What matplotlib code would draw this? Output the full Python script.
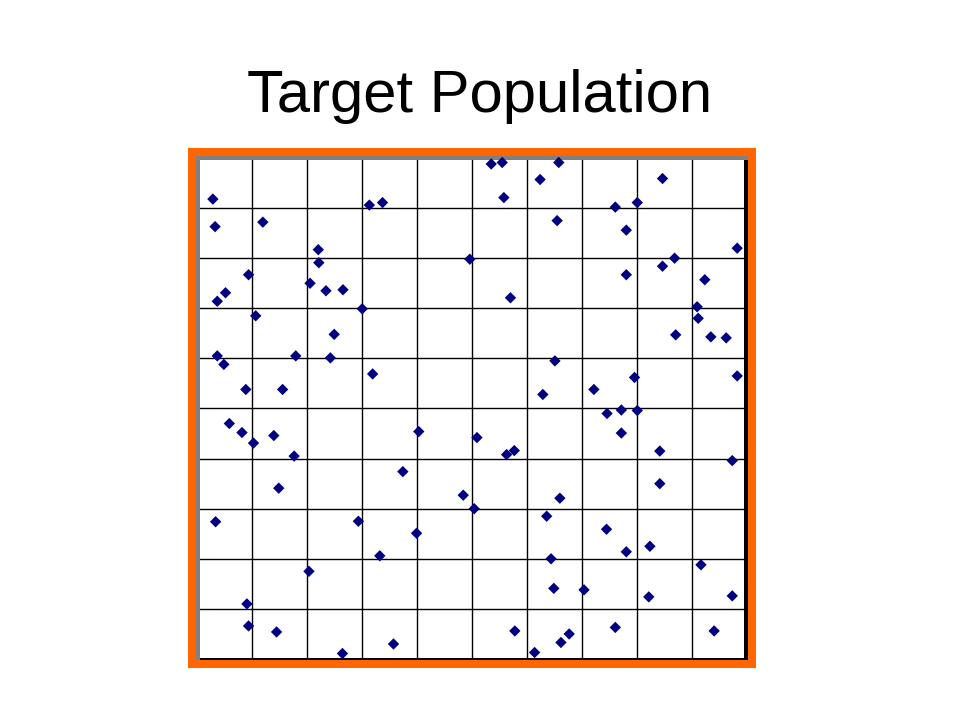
import matplotlib
matplotlib.use("Agg")
import matplotlib.pyplot as plt
from matplotlib.patches import Rectangle

title = "Target Population"

# point positions on a 10 x 10 grid (x from left, y from bottom)
x_vals = [0.28, 0.32, 1.19, 2.20, 2.21, 0.93, 2.05, 2.34, 2.65, 0.51,
          0.36, 1.06, 2.49, 0.36, 0.48, 1.79, 2.42, 0.88, 1.55, 3.13,
          3.37, 4.96, 3.00, 3.19, 5.35, 5.55, 6.58, 6.24, 5.58, 6.55,
          5.70, 6.51, 6.29, 7.22, 8.47, 8.01, 7.61, 7.81, 9.83, 8.69,
          8.47, 7.81, 9.24, 9.10, 9.12, 8.71, 9.35, 9.63, 7.96, 9.83,
          0.58, 0.81, 1.02, 1.39, 1.76, 1.48, 0.33, 2.03, 0.90, 0.93,
          1.44, 4.03, 3.74, 4.84, 5.04, 2.93, 3.99, 3.32, 3.57, 2.64,
          7.46, 5.09, 5.63, 5.77, 6.60, 6.36, 7.45, 6.44, 6.49, 7.04,
          5.78, 6.77, 6.62, 6.14, 7.72, 8.01, 7.72, 8.42, 9.74, 8.42,
          8.24, 7.81, 9.17, 8.22, 9.74, 7.61, 9.41]
y_vals = [9.18, 8.63, 8.72, 8.17, 7.91, 7.67, 7.50, 7.35, 7.37, 7.31,
          7.14, 6.85, 6.48, 6.05, 5.88, 6.05, 6.01, 5.38, 5.38, 9.06,
          9.11, 7.98, 6.99, 5.69, 9.88, 9.91, 9.91, 9.57, 9.21, 8.75,
          7.21, 5.95, 5.28, 5.38, 9.59, 9.11, 9.02, 8.56, 8.20, 8.00,
          7.84, 7.67, 7.57, 7.03, 6.80, 6.47, 6.43, 6.41, 5.62, 5.65,
          4.70, 4.52, 4.31, 4.46, 4.05, 3.41, 2.74, 1.75, 1.10, 0.66,
          0.54, 4.54, 3.74, 3.27, 3.00, 2.75, 2.51, 2.06, 0.30, 0.11,
          4.90, 4.42, 4.08, 4.16, 3.21, 2.85, 2.59, 2.00, 1.41, 1.38,
          0.56, 0.50, 0.33, 0.13, 4.97, 4.96, 4.51, 4.15, 3.96, 3.50,
          2.25, 2.14, 1.88, 1.24, 1.26, 0.63, 0.56]
grid_ticks = list(range(1, 10))

W, H = 960, 720
fig = plt.figure(figsize=(W / 100, H / 100), dpi=100)
fig.patch.set_facecolor("white")


def box(x0, y0, x1, y1):
    """pixel box (top-left origin) -> figure fraction rectangle args"""
    return (x0 / W, 1 - y1 / H), (x1 - x0) / W, (y1 - y0) / H


def add_rect(x0, y0, x1, y1, color, z):
    xy, w, h = box(x0, y0, x1, y1)
    fig.patches.append(Rectangle(xy, w, h, transform=fig.transFigure,
                                 facecolor=color, edgecolor="none", zorder=z))


# orange frame with bevelled border
add_rect(188, 148, 756, 668, "#FF6600", 0)
add_rect(196, 156, 748, 660, "#808080", 1)
add_rect(200, 160, 748, 660, "#000000", 2)

xy, w, h = box(200, 160, 744, 658)
ax = fig.add_axes([xy[0], xy[1], w, h])
ax.set_zorder(5)
ax.set_facecolor("white")
ax.set_xlim(0.0455, 9.954)
ax.set_ylim(0.02, 9.96)
ax.set_xticks(grid_ticks)
ax.set_yticks(grid_ticks)
ax.tick_params(length=0, labelbottom=False, labelleft=False)
ax.grid(True, color="black", linewidth=1.0)
ax.set_axisbelow(True)
for s in ax.spines.values():
    s.set_visible(False)

ax.scatter(x_vals, y_vals, marker="D", s=5.8 ** 2, color="#000080",
           edgecolors="none", zorder=3, clip_on=False)

fig.text(0.5, 1 - 112 / H, title, ha="center", va="baseline",
         fontsize=43, family=["Liberation Sans", "DejaVu Sans"])

fig.savefig("out.png", dpi=100)
